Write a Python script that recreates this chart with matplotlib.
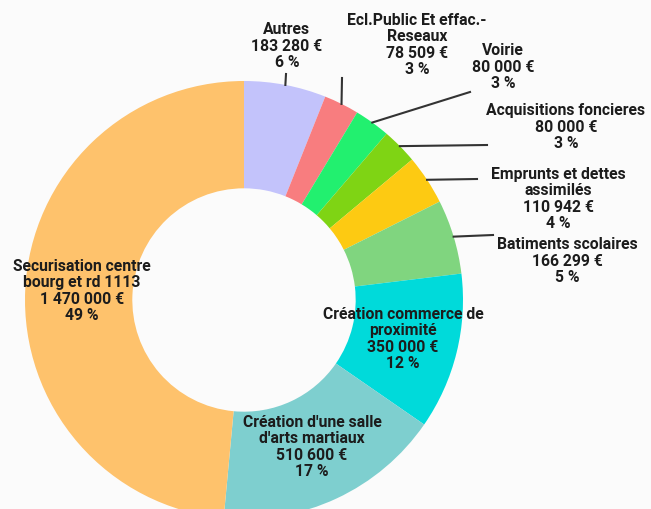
import numpy as np
import matplotlib
matplotlib.use("Agg")
import matplotlib.pyplot as plt

# data, clockwise from the top
labels = ["Autres", "Ecl.Public Et effac.-\nReseaux", "Voirie", "Acquisitions foncieres",
          "Emprunts et dettes\nassimilés", "Batiments scolaires",
          "Création commerce de\nproximité", "Création d'une salle\nd'arts martiaux",
          "Securisation centre\nbourg et rd 1113"]
amounts = [183280, 78509, 80000, 80000, 110942, 166299, 350000, 510600, 1470000]
amount_text = ["183 280 €", "78 509 €", "80 000 €", "80 000 €", "110 942 €",
               "166 299 €", "350 000 €", "510 600 €", "1 470 000 €"]
pct_text = ["6 %", "3 %", "3 %", "3 %", "4 %", "5 %", "12 %", "17 %", "49 %"]
colors = ["#c3c3fb", "#f87d7f", "#22f06f", "#7fd414", "#fdca12", "#80d57f",
          "#00dada", "#7ecfcf", "#fec26c"]

W, H = 651, 510
cx, cy, R = 244, 301, 219   # pixel layout of the donut
hole = 0.51

fig = plt.figure(figsize=(W / 100, H / 100), dpi=100, facecolor="#fbfbfb")
ax = fig.add_axes([(cx - R) / W, (H - cy - R) / H, 2 * R / W, 2 * R / H])
ax.set_facecolor("none")

wedges, _ = ax.pie(amounts, colors=colors, startangle=90, counterclock=False,
                   radius=1, wedgeprops=dict(width=1 - hole, linewidth=0))
ax.set_xlim(-1, 1)
ax.set_ylim(-1, 1)
ax.set_aspect("equal")
ax.axis("off")


def px(x, y):
    # pixel position -> data coords of the pie axes
    return (x - cx) / R, (cy - y) / R


font = dict(family=["Roboto", "DejaVu Sans"], weight="bold", fontsize=11.3,
            color="#1c1c1c", linespacing=1.13, ha="center", va="center")

# outside labels: (line end, text centre)
outside = {
    0: ((286, 75), (287, 46)),
    1: ((342, 79), (417, 45)),
    2: ((470, 93), (503, 67)),
    3: ((487, 146), (566, 127)),
    4: ((477, 180), (558, 199)),
    5: ((493, 236), (567, 261)),
}
inside = {6: (403, 339), 7: (312, 447), 8: (82, 291)}

for i, w in enumerate(wedges):
    txt = labels[i] + "\n" + amount_text[i] + "\n" + pct_text[i]
    if i in outside:
        (lx, ly), (tx, ty) = outside[i]
        ang = np.deg2rad((w.theta1 + w.theta2) / 2)
        ax.plot([np.cos(ang), px(lx, ly)[0]], [np.sin(ang), px(lx, ly)[1]],
                color="#333333", lw=1.5, clip_on=False)
        ax.text(*px(tx, ty), txt, clip_on=False, **font)
    else:
        ax.text(*px(*inside[i]), txt, **font)

fig.savefig("out.png", dpi=100, facecolor=fig.get_facecolor())
